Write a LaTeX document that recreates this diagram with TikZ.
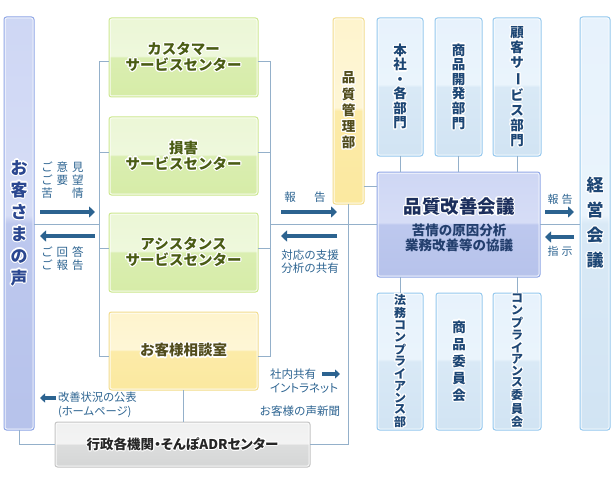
\documentclass[tikz,border=0pt]{standalone}
\usepackage{fontspec}
\setmainfont{Noto Sans CJK JP}
\newfontfamily\jpp{Noto Sans CJK JP}[RawFeature=+palt]
\usepackage[copies]{contour}
\contourlength{1.1pt}
\contournumber{16}
\usetikzlibrary{arrows.meta}

\definecolor{lineC}{HTML}{94B0CA}
\definecolor{arrowC}{HTML}{2C6390}
\definecolor{labelC}{HTML}{2E6592}
% green
\definecolor{grBorder}{HTML}{CCE88E}
\definecolor{grTop}{HTML}{E9F5D0}
\definecolor{grHi}{HTML}{EEF8DC}
\definecolor{grMid}{HTML}{DAEEB1}
\definecolor{grBot}{HTML}{D2EA9E}
\definecolor{grText}{HTML}{4A5C14}
% yellow
\definecolor{yeBorder}{HTML}{F2DC8C}
\definecolor{yeTop}{HTML}{FDF2C4}
\definecolor{yeHi}{HTML}{FEF6D6}
\definecolor{yeMid}{HTML}{FCEBA8}
\definecolor{yeBot}{HTML}{FAE697}
\definecolor{yeText}{HTML}{514C1C}
% blue
\definecolor{blBorder}{HTML}{94C8EE}
\definecolor{blTop}{HTML}{E4F0FB}
\definecolor{blHi}{HTML}{EAF4FC}
\definecolor{blMid}{HTML}{D9E9F6}
\definecolor{blBot}{HTML}{C9DEF0}
\definecolor{blText}{HTML}{1D4674}
% lavender
\definecolor{lvBorder}{HTML}{8FA6E6}
\definecolor{lvTop}{HTML}{C6D0F2}
\definecolor{lvHi}{HTML}{D6DDF6}
\definecolor{lvMid}{HTML}{BDC8EE}
\definecolor{lvBot}{HTML}{B0BDE8}
\definecolor{lvText}{HTML}{2B4790}
\definecolor{kzText}{HTML}{1B2E5C}
\definecolor{kzSub}{HTML}{233F6E}
% grey
\definecolor{gyBorder}{HTML}{C4C4C4}
\definecolor{gyTop}{HTML}{ECEDED}
\definecolor{gyHi}{HTML}{F3F3F3}
\definecolor{gyMid}{HTML}{DCDDDD}
\definecolor{gyBot}{HTML}{CDCECE}
\definecolor{gyText}{HTML}{262626}

\pgfdeclareverticalshading{shGreen}{100bp}{color(0bp)=(grBot); color(50bp)=(grMid); color(51bp)=(grHi); color(100bp)=(grTop)}
\pgfdeclareverticalshading{shYellow}{100bp}{color(0bp)=(yeBot); color(50bp)=(yeMid); color(51bp)=(yeHi); color(100bp)=(yeTop)}
\pgfdeclareverticalshading{shBlue}{100bp}{color(0bp)=(blBot); color(50bp)=(blMid); color(51bp)=(blHi); color(100bp)=(blTop)}
\pgfdeclareverticalshading{shLav}{100bp}{color(0bp)=(lvBot); color(50bp)=(lvMid); color(51bp)=(lvHi); color(100bp)=(lvTop)}
\pgfdeclareverticalshading{shGrey}{100bp}{color(0bp)=(gyBot); color(50bp)=(gyMid); color(51bp)=(gyHi); color(100bp)=(gyTop)}

\newcommand\hc[1]{\contour{white}{#1}}
\newcommand\vbar{\rotatebox[origin=c]{-90}{ー}}

\tikzset{
  box/.style={rectangle, rounded corners=2.5pt, line width=1pt, inner sep=0pt, outer sep=0pt, align=center,
     path picture={\draw[white, line width=3pt, opacity=0.85] (path picture bounding box.south west) rectangle (path picture bounding box.north east);}},
  greenbox/.style={box, draw=grBorder, shade, shading=shGreen, text=grText,
     font=\fontsize{14.5}{16}\selectfont\bfseries, minimum width=149pt, minimum height=79pt},
  yellowbox/.style={box, draw=yeBorder, shade, shading=shYellow, text=yeText,
     font=\fontsize{14.5}{16}\selectfont\bfseries},
  bluebox/.style={box, draw=blBorder, shade, shading=shBlue, text=blText},
  lavbox/.style={box, draw=lvBorder, shade, shading=shLav, text=lvText},
  greybox/.style={box, draw=gyBorder, shade, shading=shGrey, text=gyText},
  conn/.style={draw=lineC, line width=1pt},
  bigarrow/.style={draw=arrowC, line width=4.6pt, -{Triangle[length=6pt,width=11pt]}},
  smallarrow/.style={draw=arrowC, line width=3.8pt, -{Triangle[length=5pt,width=9pt]}},
  lab/.style={inner sep=0pt, outer sep=0pt, text=labelC, font=\fontsize{11.5}{13}\selectfont},
}

\begin{document}
\begin{tikzpicture}[x=1pt,y=-1pt]
\useasboundingbox (0,0) rectangle (615,484);
\fill[white] (0,0) rectangle (615,484);

\coordinate (jl) at (99,224);
\coordinate (jlt) at (99,62);
\coordinate (jlb) at (99,356);
\coordinate (jr) at (270,224);
\coordinate (jrt) at (270,62);
\coordinate (jrb) at (270,356);

% ---------- boxes ----------
\node[lavbox, minimum width=30pt, minimum height=413pt,
      font=\fontsize{17}{22}\selectfont\bfseries] (voice) at (19,223.5)
  {\hc{お}\\\hc{客}\\\hc{さ}\\\hc{ま}\\\hc{の}\\\hc{声}};

\node[greenbox] (cs) at (183.5,57.5) {\hc{カスタマー}\\\hc{サービスセンター}};
\node[greenbox, minimum height=78pt] (songai) at (183.5,156) {\hc{損害}\\\hc{サービスセンター}};
\node[greenbox] (assist) at (183.5,252.5) {\hc{アシスタンス}\\\hc{サービスセンター}};
\node[yellowbox, minimum width=149pt, minimum height=78pt] (soudan) at (183.5,351) {\hc{お客様相談室}};

\node[yellowbox, minimum width=31pt, minimum height=186pt,
      font=\fontsize{13.5}{16.2}\selectfont\bfseries] (qm) at (348.5,111)
  {\hc{品}\\\hc{質}\\\hc{管}\\\hc{理}\\\hc{部}};

\node[bluebox, minimum width=46pt, minimum height=138pt,
      font=\fontsize{13.5}{14.4}\selectfont\bfseries] (honsha) at (400,87)
  {\hc{本}\\\hc{社}\\\hc{・}\\\hc{各}\\\hc{部}\\\hc{門}};
\node[bluebox, minimum width=47pt, minimum height=138pt,
      font=\fontsize{13.5}{14.6}\selectfont\bfseries] (shohin) at (458.5,87)
  {\hc{商}\\\hc{品}\\\hc{開}\\\hc{発}\\\hc{部}\\\hc{門}};
\node[bluebox, minimum width=48pt, minimum height=138pt,
      font=\fontsize{13.5}{15}\selectfont\bfseries] (kokyaku) at (517,87)
  {\hc{顧}\\\hc{客}\\\hc{サ}\\\hc{\vbar}\\\hc{ビ}\\\hc{ス}\\\hc{部}\\\hc{門}};

\node[lavbox, minimum width=163pt, minimum height=105pt] (kaizen) at (458.5,224.5) {};
\node[inner sep=0pt, text=kzText, font=\fontsize{18.5}{20}\selectfont\bfseries] (kaizenT) at (459,207) {\hc{品質改善会議}};
\node[inner sep=0pt, text=kzSub, align=center, font=\fontsize{13.5}{15}\selectfont\bfseries] (kaizenS) at (459,238)
  {苦情の原因分析\\業務改善等の協議};

\node[bluebox, minimum width=46pt, minimum height=137pt,
      font=\fontsize{12}{11.7}\selectfont\bfseries] (houmu) at (400,361.5)
  {\hc{法}\\\hc{務}\\\hc{コ}\\\hc{ン}\\\hc{プ}\\\hc{ラ}\\\hc{イ}\\\hc{ア}\\\hc{ン}\\\hc{ス}\\\hc{部}};
\node[bluebox, minimum width=46pt, minimum height=137pt,
      font=\fontsize{13.5}{17}\selectfont\bfseries] (shiiin) at (459,361.5)
  {\hc{商}\\\hc{品}\\\hc{委}\\\hc{員}\\\hc{会}};
\node[bluebox, minimum width=48pt, minimum height=137pt,
      font=\fontsize{12}{11.6}\selectfont\bfseries] (compiin) at (517,361.5)
  {\hc{コ}\\\hc{ン}\\\hc{プ}\\\hc{ラ}\\\hc{イ}\\\hc{ア}\\\hc{ン}\\\hc{ス}\\\hc{委}\\\hc{員}\\\hc{会}};

\node[bluebox, minimum width=30pt, minimum height=413pt,
      font=\fontsize{17}{25}\selectfont\bfseries] (keiei) at (595,223.5)
  {\hc{経}\\\hc{営}\\\hc{会}\\\hc{議}};

\node[greybox, minimum width=255pt, minimum height=45pt,
      font=\jpp\fontsize{13.5}{15}\selectfont\bfseries] (admin) at (182.5,444.5)
  {\hc{行政各機関・そんぽADRセンター}};

% ---------- connectors ----------
\draw[conn] (voice.east |- jl) -- (jl);
\draw[conn] (jlt) -- (jlb);
\draw[conn] (jlt) -- (cs.west |- jlt);
\draw[conn] (99,152) -- (songai.west |- 0,152);
\draw[conn] (99,248) -- (assist.west |- 0,248);
\draw[conn] (jlb) -- (soudan.west |- jlb);
\draw[conn] (cs.east |- jrt) -- (jrt) -- (jrb) -- (soudan.east |- jrb);
\draw[conn] (songai.east |- 0,152) -- (270,152);
\draw[conn] (assist.east |- 0,248) -- (270,248);
\draw[conn] (jr) -- (kaizen.west |- jr);
\draw[conn] (qm.east |- 0,186) -- (kaizen.west |- 0,186);
\draw[conn] (qm.south) -- (qm.south |- admin.east) -- (admin.east);
\draw[conn] (voice.south) -- (voice.south |- admin.west) -- (admin.west);
\draw[conn] (soudan.south) -- (admin.north -| soudan.south);
\draw[conn] (honsha.south) -- (honsha.south |- kaizen.north);
\draw[conn] (shohin.south) -- (shohin.south |- kaizen.north);
\draw[conn] (kokyaku.south) -- (kokyaku.south |- kaizen.north);
\draw[conn] (kaizen.south -| houmu.north) -- (houmu.north);
\draw[conn] (kaizen.south -| compiin.north) -- (compiin.north);
\draw[conn] (kaizen.east) -- (kaizen.east -| keiei.west);

% ---------- arrows ----------
\coordinate (a1s) at (40,212);  \coordinate (a1e) at (95,212);
\coordinate (a2s) at (95,236);  \coordinate (a2e) at (40,236);
\coordinate (a3s) at (281,212); \coordinate (a3e) at (337,212);
\coordinate (a4s) at (337,236); \coordinate (a4e) at (281,236);
\coordinate (a5s) at (545,212); \coordinate (a5e) at (574,212);
\coordinate (a6s) at (574,237); \coordinate (a6e) at (545,237);
\coordinate (a7s) at (322,374); \coordinate (a7e) at (340,374);
\coordinate (a8s) at (56,398);  \coordinate (a8e) at (40,398);
\draw[bigarrow] (a1s) -- (a1e);
\draw[bigarrow] (a2s) -- (a2e);
\draw[bigarrow] (a3s) -- (a3e);
\draw[bigarrow] (a4s) -- (a4e);
\draw[bigarrow] (a5s) -- (a5e);
\draw[bigarrow] (a6s) -- (a6e);
\draw[smallarrow] (a7s) -- (a7e);
\draw[smallarrow] (a8s) -- (a8e);

% ---------- labels ----------
\node[lab, align=left] (lab1) at (62.5,180)
  {ご\hspace{4pt}意\hspace{4pt}見\\ご\hspace{4pt}要\hspace{4pt}望\\苦\hspace{19.5pt}情};
\node[lab, align=left] (lab2) at (62.5,259)
  {ご\hspace{4pt}回\hspace{4pt}答\\ご\hspace{4pt}報\hspace{4pt}告};
\node[lab] (lab3) at (305,197) {報\hspace{18.5pt}告};
\node[lab, align=center] (lab4) at (310,262) {対応の支援\\分析の共有};
\node[lab, font=\fontsize{11}{13}\selectfont] (lab5) at (560,199) {報\hspace{3pt}告};
\node[lab, font=\fontsize{11}{13}\selectfont] (lab6) at (560,251) {指\hspace{3pt}示};
\node[lab, anchor=west] (lab7) at (270,374) {社内共有};
\node[lab, anchor=west, font=\jpp\fontsize{11.5}{13}\selectfont] (lab8) at (270,388) {イントラネット};
\node[lab, anchor=east] (lab9) at (340,411) {お客様の声新聞};
\node[lab, anchor=west, align=left, font=\jpp\fontsize{11.3}{14}\selectfont] (lab10) at (58,405)
  {改善状況の公表\\(ホームページ)};
\end{tikzpicture}
\end{document}
